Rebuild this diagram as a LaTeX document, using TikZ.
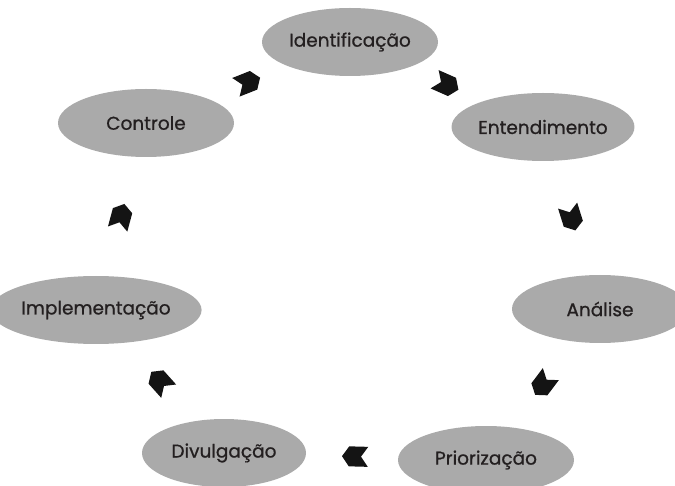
\documentclass[tikz,border=0pt]{standalone}
\usepackage{fontspec}
\setmainfont{Poppins}
\newfontfamily\stagefont{Poppins}[FakeBold=0.8]
\usetikzlibrary{shapes.geometric,shapes.symbols}
\definecolor{stagefill}{RGB}{170,170,170}
\definecolor{stagetext}{RGB}{35,31,32}
\begin{document}
\begin{tikzpicture}[x=1pt,y=-1pt,
  stage/.style={ellipse, fill=stagefill, inner sep=0pt,
    minimum width=176pt, minimum height=68pt, text=stagetext,
    font=\stagefont\fontsize{18.5}{20}\selectfont},
  chev/.style={signal, signal from=west, signal to=east,
    signal pointer angle=110, fill=black!92, draw=none,
    minimum width=26pt, minimum height=20pt, inner sep=0pt,
    sloped, allow upside down, pos=0.5}]
\useasboundingbox (0,0) rectangle (675,486);
\clip (0,0) rectangle (675,486);

% stages of the cycle
\node[stage] (idf) at (350,42)  {Identificação};
\node[stage] (ent) at (543,127) {Entendimento};
\node[stage] (ana) at (600,309) {Análise};
\node[stage] (pri) at (486,460) {Priorização};
\node[stage, minimum width=164pt] (div) at (224,453) {Divulgação};
\node[stage] (imp) at (96,310)  {Implementação};
\node[stage] (ctl) at (146,123) {Controle};

% chevrons between consecutive stages
\path (ctl.center) -- node[chev] {} (idf.center);
\path (idf.center) -- node[chev] {} (ent.center);
\path (ent.center) -- node[chev] {} (ana.center);
\path (ana.center) -- node[chev] {} (pri.center);
\path (pri.center) -- node[chev] {} (div.center);
\path (div.center) -- node[chev] {} (imp.center);
\path (imp.center) -- node[chev] {} (ctl.center);
\end{tikzpicture}
\end{document}
